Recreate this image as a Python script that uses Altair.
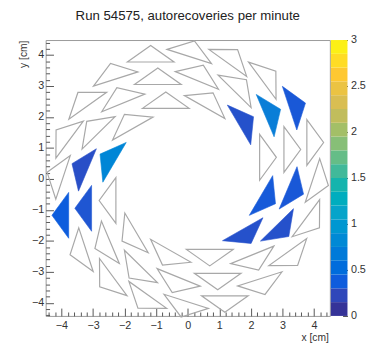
import math
import altair as alt
import pandas as pd

title_text = "Run 54575, autorecoveries per minute"

# detector geometry: three rings of identical triangles
ring_count = [12, 16, 20]
ring_radius = [2.38, 3.19, 3.95]      # radius of each triangle's base midpoint [cm]
ring_shift_deg = [17.0, 17.3, 17.3]   # base midpoint leads the apex direction by this angle
tri_base = 1.48
tri_height = 0.53

# autorecoveries per minute, triangle k of a ring has its apex pointing at k*360/N degrees
ring1_vals = [0, 0.30, 0, 0, 0, 0.80, 0, 0, 0, 0, 0.30, 0.36]
ring2_vals = [0, 0.72, 0, 0, 0, 0, 0, 0.28, 0.33, 0, 0, 0, 0, 0, 0.30, 0.35]
ring3_vals = [0, 0.35, 0, 0, 0, 0, 0, 0, 0, 0, 0.38, 0, 0, 0, 0, 0, 0, 0, 0, 0]

x_range = [-4.5, 4.5]
y_range = [-4.42, 4.48]
major_ticks = [-4, -3, -2, -1, 0, 1, 2, 3, 4]
minor_ticks = [-4.4, -4.2, -3.8, -3.6, -3.4, -3.2, -2.8, -2.6, -2.4, -2.2,
               -1.8, -1.6, -1.4, -1.2, -0.8, -0.6, -0.4, -0.2,
               0.2, 0.4, 0.6, 0.8, 1.2, 1.4, 1.6, 1.8, 2.2, 2.4, 2.6, 2.8,
               3.2, 3.4, 3.6, 3.8, 4.2, 4.4]
cbar_ticks = [0, 0.5, 1, 1.5, 2, 2.5, 3]
cbar_edges = [0, 0.15, 0.3, 0.45, 0.6, 0.75, 0.9, 1.05, 1.2, 1.35, 1.5,
              1.65, 1.8, 1.95, 2.1, 2.25, 2.4, 2.55, 2.7, 2.85, 3.0]
bird_stops = [0, 0.375, 0.75, 1.125, 1.5, 1.875, 2.25, 2.625, 3]
bird_colors = ["#352a87", "#0f5cdd", "#1481d6", "#06a4ca", "#2eb7a4",
               "#87bf77", "#d1bb59", "#fec832", "#f9fb0e"]

FONT = "Liberation Sans"
TXT = "#333333"
W, H = 290.5, 282
CBAR_GAP, CBAR_W = 1, 17

rows = []
for i, vals in enumerate([ring1_vals, ring2_vals, ring3_vals]):
    n = ring_count[i]
    for k, v in enumerate(vals):
        phi = 2 * math.pi * k / n
        psi = phi + math.radians(ring_shift_deg[i])
        mx, my = ring_radius[i] * math.cos(psi), ring_radius[i] * math.sin(psi)
        ux, uy = math.cos(phi), math.sin(phi)
        nx, ny = -math.sin(phi), math.cos(phi)
        verts = [(mx + tri_base / 2 * nx, my + tri_base / 2 * ny),
                 (mx + tri_height * ux, my + tri_height * uy),
                 (mx - tri_base / 2 * nx, my - tri_base / 2 * ny)]
        for j, (x, y) in enumerate(verts):
            rows.append({"tri": f"r{i}k{k}", "ord": j, "x": x, "y": y, "v": v})
df = pd.DataFrame(rows)
df_fill = df[df["v"] > 0]
df_empty = df[df["v"] == 0]

cscale = alt.Scale(domain=bird_stops, range=bird_colors)
xs = alt.Scale(domain=x_range, nice=False, zero=False)
ys = alt.Scale(domain=y_range, nice=False, zero=False)
cys = alt.Scale(domain=[0, 3], nice=False, zero=False)

common = dict(grid=False, domain=False, labelFont=FONT, titleFont=FONT)

x_lab = alt.Axis(orient="bottom", values=major_ticks, ticks=False, tickSize=0, labelPadding=3.5,
                 labelFontSize=11, labelColor=TXT, format="d", labelFlush=False,
                 title="x [cm]", titleFontSize=10.5, titleFontWeight="normal", titleColor=TXT,
                 titleAlign="right", titleAnchor="end", titleX=289, titleY=25,
                 titleBaseline="alphabetic", **common)
y_lab = alt.Axis(orient="left", values=major_ticks, ticks=False, tickSize=0, labelPadding=2,
                 labelFontSize=11, labelColor=TXT, format="d", labelFlush=False,
                 title="y [cm]", titleFontSize=10.5, titleFontWeight="normal", titleColor=TXT,
                 titleAngle=270, titleAlign="right", titleBaseline="middle",
                 titleX=-23, titleY=0, **common)
x_major = alt.Axis(orient="bottom", values=major_ticks, labels=False, tickSize=8, offset=-8,
                   tickColor="#555555", title=None, **common)
y_major = alt.Axis(orient="left", values=major_ticks, labels=False, tickSize=8, offset=-8,
                   tickColor="#555555", title=None, **common)
x_minor = alt.Axis(orient="bottom", values=minor_ticks, labels=False, tickSize=4, offset=-4,
                   tickColor="#555555", title=None, **common)
y_minor = alt.Axis(orient="left", values=minor_ticks, labels=False, tickSize=4, offset=-4,
                   tickColor="#555555", title=None, **common)
c_lab = alt.Axis(orient="right", values=cbar_ticks, ticks=False, tickSize=0, labelPadding=3,
                 offset=CBAR_GAP + CBAR_W, labelFontSize=11, labelColor=TXT, format="~g",
                 title=None, labelFlush=False, **common)
c_tick = alt.Axis(orient="right", values=cbar_ticks, labels=False, tickSize=5,
                  offset=CBAR_GAP + CBAR_W - 5, tickColor="#444444", title=None, **common)

filled = alt.Chart(df_fill).mark_line(interpolate="linear-closed", strokeWidth=0.6).encode(
    x=alt.X("x:Q", scale=xs, axis=x_lab),
    y=alt.Y("y:Q", scale=ys, axis=y_lab),
    order=alt.Order("ord:Q"),
    detail="tri:N",
    fill=alt.Fill("v:Q", scale=cscale, legend=None),
    stroke=alt.Stroke("v:Q", scale=cscale, legend=None),
)
outline = alt.Chart(df_empty).mark_line(interpolate="linear-closed", stroke="#a8a8a8",
                                        strokeWidth=1.2).encode(
    x=alt.X("x:Q", scale=xs, axis=x_major),
    y=alt.Y("y:Q", scale=ys, axis=y_major),
    order=alt.Order("ord:Q"),
    detail="tri:N",
)
minor = alt.Chart(df).mark_point(opacity=0).encode(
    x=alt.X("x:Q", scale=xs, axis=x_minor),
    y=alt.Y("y:Q", scale=ys, axis=y_minor),
)

cbar_df = pd.DataFrame({"lo": cbar_edges[:-1], "hi": cbar_edges[1:]})
cbar_df["mid"] = (cbar_df["lo"] + cbar_df["hi"]) / 2
cbar_rect = alt.Chart(cbar_df).mark_rect().encode(
    x=alt.value(W + CBAR_GAP), x2=alt.value(W + CBAR_GAP + CBAR_W),
    y=alt.Y("lo:Q", scale=cys, axis=c_lab),
    y2="hi:Q",
    fill=alt.Fill("mid:Q", scale=cscale, legend=None),
)
cbar_ticklayer = alt.Chart(cbar_df).mark_point(opacity=0).encode(
    y=alt.Y("lo:Q", scale=cys, axis=c_tick),
)

chart = alt.layer(filled, outline, minor, cbar_rect, cbar_ticklayer).resolve_scale(
    y="independent"
).resolve_axis(x="independent", y="independent").properties(
    width=W, height=H,
    title=alt.TitleParams(title_text, font=FONT, fontSize=13.5, fontWeight="normal", color="#222222",
                          anchor="middle", frame="group", baseline="alphabetic", offset=1),
    autosize=alt.AutoSizeParams(type="none"),
    padding={"left": 38.5, "top": 29, "right": 40, "bottom": 27},
    background="white",
).configure_view(stroke="#9a9a9a", strokeWidth=1)

chart.save("out.html", embed_options={"renderer": "svg", "actions": False})
